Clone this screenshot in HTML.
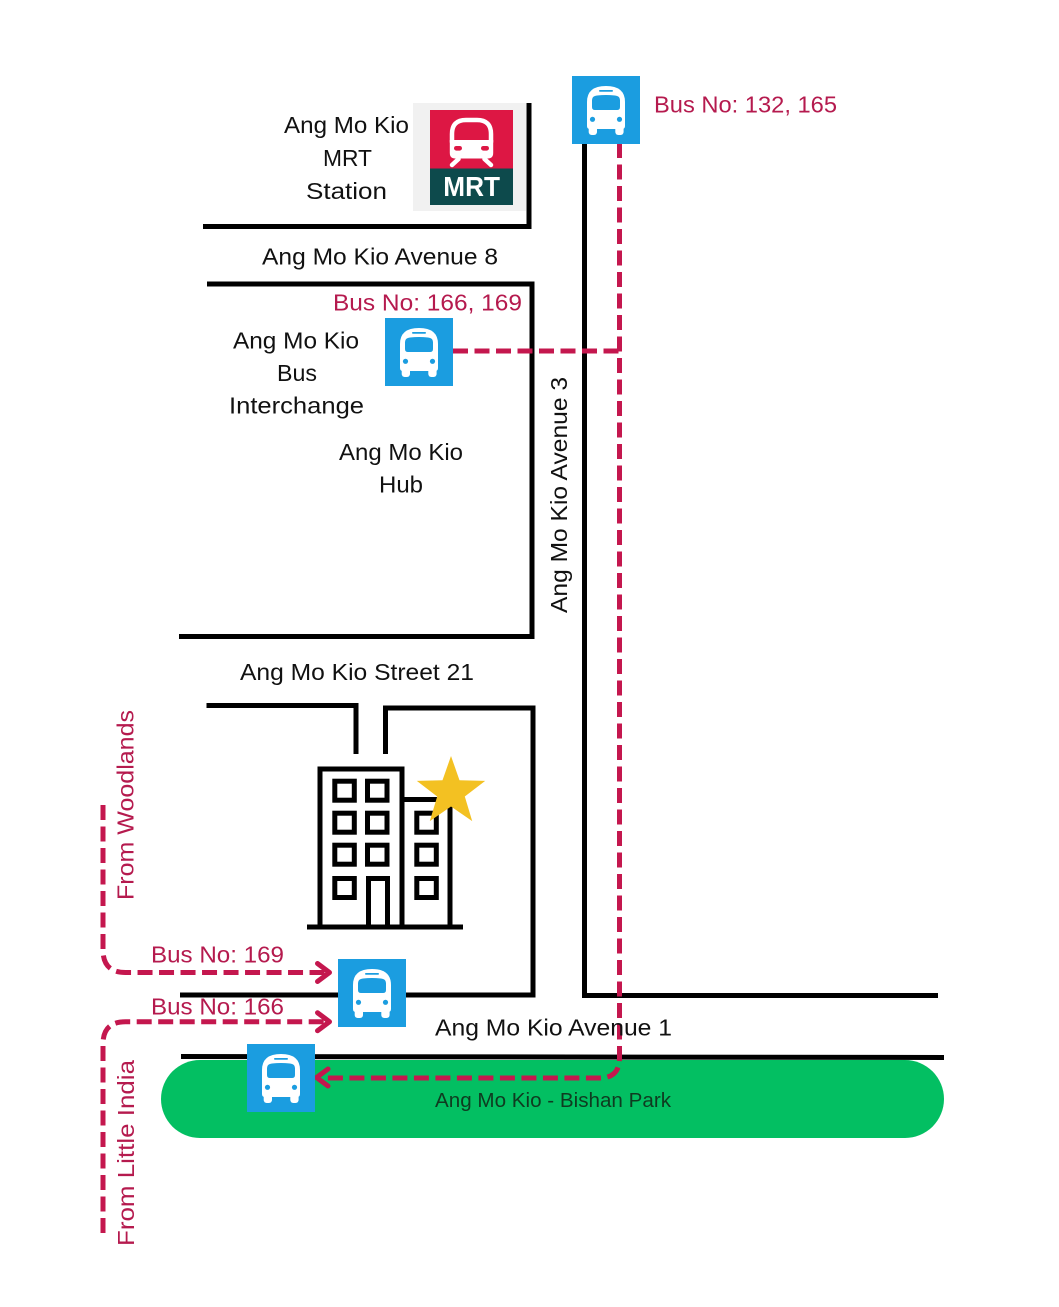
<!DOCTYPE html>
<html>
<head>
<meta charset="utf-8">
<style>
html,body{margin:0;padding:0;background:#fff;}
svg{display:block;}
text{font-family:"Liberation Sans",Arial,sans-serif;}
</style>
</head>
<body>
<svg width="1059" height="1307" viewBox="0 0 1059 1307" xmlns="http://www.w3.org/2000/svg">
<defs>
  <g id="bus">
    <rect x="0" y="0" width="68" height="68" fill="#1b9de0"/>
    <path d="M15,26 Q15,10 34,10 Q53,10 53,26 L53,50 Q53,53 50,53 L18,53 Q15,53 15,50 Z" fill="#fff"/>
    <path d="M20,24 Q20,20 25,19.5 Q34,18.5 43,19.5 Q48,20 48,24 L48,31 Q48,34 45,34 L23,34 Q20,34 20,31 Z" fill="#1b9de0"/>
    <rect x="27" y="14" width="14" height="1.8" rx="0.9" fill="#1b9de0"/>
    <circle cx="20.5" cy="43.3" r="2.6" fill="#1b9de0"/>
    <circle cx="47.5" cy="43.3" r="2.6" fill="#1b9de0"/>
    <rect x="16.7" y="48" width="8.3" height="11" rx="3" fill="#fff"/>
    <rect x="43.3" y="48" width="8.3" height="11" rx="3" fill="#fff"/>
  </g>
</defs>

<!-- Green park -->
<rect x="161" y="1060" width="783" height="78" rx="39" ry="39" fill="#03bf62"/>

<!-- Black roads -->
<g fill="none" stroke="#000" stroke-width="5" stroke-linejoin="miter">
  <polyline points="203,226.5 529,226.5 529,103"/>
  <polyline points="207,284 532,284 532,636.5 179,636.5"/>
  <polyline points="206.5,705.5 356,705.5 356,754"/>
  <polyline points="385.5,754 385.5,708 533,708 533,995 180,995"/>
  <polyline points="584.5,143 584.5,995.5 938,995.5"/>
  <line x1="181" y1="1056.5" x2="944" y2="1057.5"/>
</g>

<!-- MRT logo -->
<rect x="413" y="103" width="113" height="108" fill="#f1f1f1"/>
<rect x="430" y="110" width="83" height="58.5" fill="#dd1744"/>
<rect x="430" y="168.5" width="83" height="36.5" fill="#0d4a4c"/>
<g fill="none" stroke="#fff" stroke-width="4.5" stroke-linecap="round" stroke-linejoin="round">
  <path d="M452,142 L452,134 Q452,120 466,120 L477,120 Q491,120 491,134 L491,142"/>
  <line x1="458.5" y1="159" x2="452" y2="165"/>
  <line x1="484.5" y1="159" x2="491" y2="165"/>
</g>
<path d="M449.8,140 L493.2,140 L493.2,153 Q493.2,158.5 487.7,158.5 L455.3,158.5 Q449.8,158.5 449.8,153 Z" fill="#fff"/>
<rect x="454" y="146" width="8" height="4.6" rx="2.3" fill="#dd1744"/>
<rect x="481" y="146" width="8" height="4.6" rx="2.3" fill="#dd1744"/>
<text x="443.3" y="196" font-size="27.5" font-weight="bold" fill="#fff" textLength="56.7" lengthAdjust="spacingAndGlyphs">MRT</text>

<!-- Building -->
<g fill="none" stroke="#000" stroke-width="5">
  <path d="M320,927 L320,769 L402,769 L402,927"/>
  <path d="M402,799.5 L450,799.5 L450,927"/>
  <line x1="307" y1="927" x2="463" y2="927"/>
  <path d="M368.5,927 L368.5,878.5 L387.5,878.5 L387.5,927"/>
  <rect x="334.8" y="781.2" width="19.5" height="19"/>
  <rect x="367.5" y="781.2" width="19.5" height="19"/>
  <rect x="334.8" y="813.2" width="19.5" height="19"/>
  <rect x="367.5" y="813.2" width="19.5" height="19"/>
  <rect x="334.8" y="845.2" width="19.5" height="19"/>
  <rect x="367.5" y="845.2" width="19.5" height="19"/>
  <rect x="334.8" y="878.5" width="19.5" height="19"/>
  <rect x="416.8" y="813.2" width="19.5" height="19"/>
  <rect x="416.8" y="845.2" width="19.5" height="19"/>
  <rect x="416.8" y="878.5" width="19.5" height="19"/>
</g>
<polygon points="451,756 459.5,780.3 485.2,780.9 464.8,796.5 472.2,821.1 451,806.5 429.8,821.1 437.2,796.5 416.8,780.9 442.5,780.3" fill="#f3c122"/>

<!-- Red dashed routes -->
<g fill="none" stroke="#c4174e" stroke-width="5" stroke-dasharray="15 6.5">
  <path d="M619.5,143 L619.5,1058 Q619.5,1078 599.5,1078 L322,1078"/>
  <path d="M453,351 L619,351"/>
  <path d="M103,805 L103,950 Q103,972.5 125.5,972.5 L326,972.5"/>
  <path d="M103,1233 L103,1044 Q103,1021.7 125.5,1021.7 L326,1021.7"/>
</g>
<g fill="none" stroke="#c4174e" stroke-width="5" stroke-linecap="round" stroke-linejoin="round">
  <polyline points="317.5,963.5 329.5,972.5 317.5,981.5"/>
  <polyline points="317.5,1012.7 329.5,1021.7 317.5,1030.7"/>
  <polyline points="328,1069 316.5,1077.5 328,1086"/>
</g>

<!-- Bus icons -->
<use href="#bus" x="572" y="76"/>
<use href="#bus" x="385" y="318"/>
<use href="#bus" x="338" y="959"/>
<use href="#bus" x="247" y="1044"/>

<!-- Black labels -->
<g font-size="23.5" fill="#111">
  <text x="284" y="133" textLength="125" lengthAdjust="spacingAndGlyphs">Ang Mo Kio</text>
  <text x="323" y="166" textLength="49" lengthAdjust="spacingAndGlyphs">MRT</text>
  <text x="306" y="199" textLength="81" lengthAdjust="spacingAndGlyphs">Station</text>
  <text x="262" y="264.3" textLength="236" lengthAdjust="spacingAndGlyphs">Ang Mo Kio Avenue 8</text>
  <text x="233" y="348.3" textLength="126" lengthAdjust="spacingAndGlyphs">Ang Mo Kio</text>
  <text x="277" y="381" textLength="40" lengthAdjust="spacingAndGlyphs">Bus</text>
  <text x="229" y="413.5" textLength="135" lengthAdjust="spacingAndGlyphs">Interchange</text>
  <text x="339" y="460" textLength="124" lengthAdjust="spacingAndGlyphs">Ang Mo Kio</text>
  <text x="379" y="492.7" textLength="44" lengthAdjust="spacingAndGlyphs">Hub</text>
  <text transform="translate(567,613) rotate(-90)" textLength="236" lengthAdjust="spacingAndGlyphs">Ang Mo Kio Avenue 3</text>
  <text x="240" y="680" textLength="234" lengthAdjust="spacingAndGlyphs">Ang Mo Kio Street 21</text>
  <text x="435" y="1035.5" textLength="237" lengthAdjust="spacingAndGlyphs">Ang Mo Kio Avenue 1</text>
</g>
<text x="435" y="1107" font-size="20" fill="#0f3b20" textLength="236" lengthAdjust="spacingAndGlyphs">Ang Mo Kio - Bishan Park</text>

<!-- Red labels -->
<g font-size="23.5" fill="#b51a4e">
  <text x="654" y="112.5" textLength="183" lengthAdjust="spacingAndGlyphs">Bus No: 132, 165</text>
  <text x="333" y="310.5" textLength="189" lengthAdjust="spacingAndGlyphs">Bus No: 166, 169</text>
  <text x="151" y="962.3" textLength="133" lengthAdjust="spacingAndGlyphs">Bus No: 169</text>
  <text x="151" y="1014.3" textLength="133" lengthAdjust="spacingAndGlyphs">Bus No: 166</text>
  <text transform="translate(133.5,900) rotate(-90)" textLength="190" lengthAdjust="spacingAndGlyphs">From Woodlands</text>
  <text transform="translate(134,1246) rotate(-90)" textLength="186" lengthAdjust="spacingAndGlyphs">From Little India</text>
</g>
</svg>
</body>
</html>
